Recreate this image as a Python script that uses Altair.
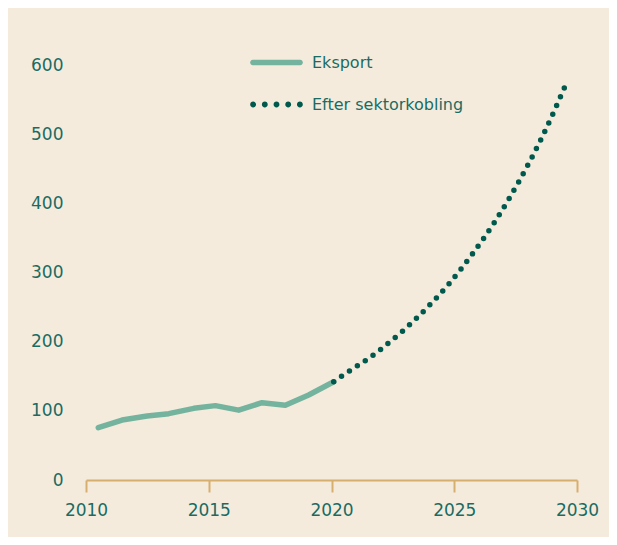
import altair as alt
import pandas as pd

# Eksport (historical, solid line)
eks_years = [2010.5, 2011.47, 2012.49, 2013.37, 2014.39, 2015.27, 2016.22, 2017.17, 2018.12, 2019.07, 2020.09]
eks_values = [75.6, 86.7, 92.5, 95.9, 103.6, 107.5, 101.0, 111.8, 108.0, 122.9, 142.0]

# Efter sektorkobling (projection, dotted line)
sek_years = [2020.09, 2020.29, 2021.92, 2023.83, 2024.78, 2025.73, 2026.68, 2027.63, 2028.58, 2029.53]
sek_values = [142.0, 147.0, 186.5, 246.8, 283.4, 326.3, 374.9, 431.3, 495.9, 570.6]

series_names = ["Eksport", "Efter sektorkobling"]
x_ticks = [2010, 2015, 2020, 2025, 2030]
y_ticks = [0, 100, 200, 300, 400, 500, 600]

BG = "#f5ebdd"
TEXT = "#1a6b62"
AXIS = "#d6ae6e"
C_EKS = "#74b49e"
C_SEK = "#00594d"
FONT = "DejaVu Sans"

eks = pd.DataFrame({"year": eks_years, "value": eks_values, "serie": series_names[0]})
sek = pd.DataFrame({"year": sek_years, "value": sek_values, "serie": series_names[1]})
both = pd.concat([eks, sek], ignore_index=True)

xs = alt.Scale(domain=[2010, 2030], nice=False, zero=False)
ys = alt.Scale(domain=[0, 600], nice=False)

x_axis = alt.Axis(values=x_ticks, format="d", title=None, grid=False,
                  domainColor=AXIS, domainWidth=2, tickColor=AXIS, tickWidth=2,
                  tickSize=12, labelPadding=10, labelColor=TEXT, labelFontSize=17,
                  labelFont=FONT, labelFlush=False)
y_axis = alt.Axis(values=y_ticks, title=None, grid=False, domain=False, ticks=False,
                  labelPadding=23, labelColor=TEXT, labelFontSize=17, labelFont=FONT)

solid_path = ("M -1.05 -0.12 L 1.05 -0.12 A 0.12 0.12 0 0 1 1.05 0.12 "
              "L -1.05 0.12 A 0.12 0.12 0 0 1 -1.05 -0.12 Z")
def circ(cx, r=0.13):
    return (f"M {cx - r} 0 A {r} {r} 0 1 0 {cx + r} 0 A {r} {r} 0 1 0 {cx - r} 0 Z")
dot_path = " ".join(circ(c) for c in [-1.04, -0.52, 0.0, 0.52, 1.04])

line_eks = alt.Chart(eks).mark_line(color=C_EKS, strokeWidth=5.5, strokeCap="round",
                                    strokeJoin="round").encode(
    x=alt.X("year:Q", scale=xs, axis=x_axis),
    y=alt.Y("value:Q", scale=ys, axis=y_axis),
)

line_sek = alt.Chart(sek).mark_line(color=C_SEK, strokeWidth=5.5, strokeCap="round",
                                    strokeDash=[0, 9.5], interpolate="monotone").encode(
    x=alt.X("year:Q", scale=xs),
    y=alt.Y("value:Q", scale=ys),
)

legend_layer = alt.Chart(both).transform_filter("false").mark_point(filled=True, opacity=1).encode(
    x=alt.X("year:Q", scale=xs),
    y=alt.Y("value:Q", scale=ys),
    color=alt.Color("serie:N", sort=series_names,
                    scale=alt.Scale(domain=series_names, range=[C_EKS, C_SEK]),
                    legend=alt.Legend(title=None, orient="none", legendX=168, legendY=-25,
                                      symbolSize=2025, symbolOpacity=1, symbolStrokeWidth=0,
                                      labelOffset=13, labelFontSize=16, labelFont=FONT,
                                      labelColor=TEXT, rowPadding=11, padding=0)),
    shape=alt.Shape("serie:N", sort=series_names,
                    scale=alt.Scale(domain=series_names, range=[solid_path, dot_path])),
)

chart = alt.layer(line_eks, line_sek, legend_layer).properties(
    width=491, height=415,
    background=BG,
    padding={"left": 78, "top": 57, "right": 32, "bottom": 57},
    autosize=alt.AutoSizeParams(type="none"),
).configure_view(stroke=None)

chart.save("out.html", embed_options={"renderer": "svg", "actions": False})
